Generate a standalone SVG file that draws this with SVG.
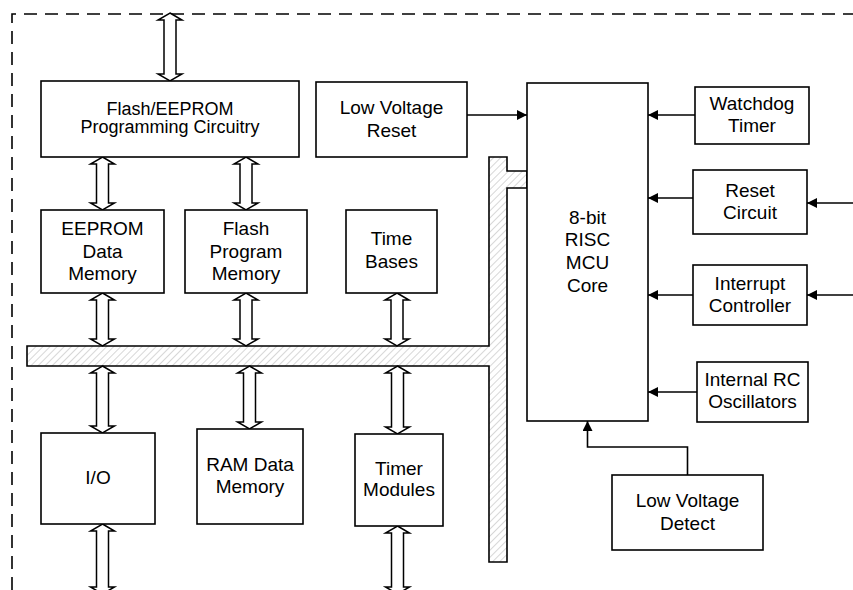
<svg xmlns="http://www.w3.org/2000/svg" width="853" height="590" viewBox="0 0 853 590">
<defs>
<style>
.box{fill:#fff;stroke:#000;stroke-width:1.6}
.t{font-family:"Liberation Sans",Arial,sans-serif;font-size:19px;fill:#000;text-anchor:middle}
.t17{font-size:18px}
.dbl{fill:#fff;stroke:#000;stroke-width:1.5;stroke-linejoin:miter}
.ln{fill:none;stroke:#000;stroke-width:1.6}
.bus{fill:url(#hatch);stroke:#000;stroke-width:1.6}
</style>
<pattern id="hatch" patternUnits="userSpaceOnUse" width="5" height="5" patternTransform="rotate(45)">
<rect width="5" height="5" fill="#fff"/>
<line x1="0" y1="0" x2="0" y2="5" stroke="#bdbdbd" stroke-width="1.2"/>
</pattern>
<marker id="ah" viewBox="0 0 10 10" refX="10" refY="5" markerWidth="11" markerHeight="10" markerUnits="userSpaceOnUse" orient="auto">
<path d="M0,0 L10,5 L0,10 z" fill="#000"/>
</marker>
</defs>

<rect width="853" height="590" fill="#fff"/>
<path d="M12,590 L12,14 L853,14" fill="none" stroke="#000" stroke-width="1.6" stroke-dasharray="13,8"/>

<g id="bus">
<path class="bus" d="M27,346 L489,346 L489,157 L507,157 L507,171 L527,171 L527,188 L507,188 L507,562 L489,562 L489,366 L27,366 Z"/>
</g>

<g id="connectors">
<polygon class="dbl" points="170,13 182,20 176,20 176,74 182,74 170,81 158,74 164,74 164,20 158,20"/>
<polygon class="dbl" points="102.5,157 114.5,164 108.5,164 108.5,203 114.5,203 102.5,210 90.5,203 96.5,203 96.5,164 90.5,164"/>
<polygon class="dbl" points="246,157 258,164 252,164 252,203 258,203 246,210 234,203 240,203 240,164 234,164"/>
<polygon class="dbl" points="102.5,293 114.5,300 108.5,300 108.5,339 114.5,339 102.5,346 90.5,339 96.5,339 96.5,300 90.5,300"/>
<polygon class="dbl" points="246,293 258,300 252,300 252,339 258,339 246,346 234,339 240,339 240,300 234,300"/>
<polygon class="dbl" points="397,293 409,300 403,300 403,339 409,339 397,346 385,339 391,339 391,300 385,300"/>
<polygon class="dbl" points="102.5,366 114.5,373 108.5,373 108.5,426 114.5,426 102.5,433 90.5,426 96.5,426 96.5,373 90.5,373"/>
<polygon class="dbl" points="249.5,366 261.5,373 255.5,373 255.5,422 261.5,422 249.5,429 237.5,422 243.5,422 243.5,373 237.5,373"/>
<polygon class="dbl" points="397.5,366 409.5,373 403.5,373 403.5,427 409.5,427 397.5,434 385.5,427 391.5,427 391.5,373 385.5,373"/>
<polygon class="dbl" points="102.5,524 114.5,531 108.5,531 108.5,587 114.5,587 102.5,594 90.5,587 96.5,587 96.5,531 90.5,531"/>
<polygon class="dbl" points="397.5,526 409.5,533 403.5,533 403.5,587 409.5,587 397.5,594 385.5,587 391.5,587 391.5,533 385.5,533"/>
<line class="ln" x1="467" y1="115" x2="527" y2="115" marker-end="url(#ah)"/>
<line class="ln" x1="695" y1="115" x2="648" y2="115" marker-end="url(#ah)"/>
<line class="ln" x1="693" y1="198" x2="648" y2="198" marker-end="url(#ah)"/>
<line class="ln" x1="853" y1="203" x2="807" y2="203" marker-end="url(#ah)"/>
<line class="ln" x1="693" y1="295" x2="648" y2="295" marker-end="url(#ah)"/>
<line class="ln" x1="853" y1="295" x2="807" y2="295" marker-end="url(#ah)"/>
<line class="ln" x1="697" y1="392" x2="648" y2="392" marker-end="url(#ah)"/>
<polyline class="ln" points="687.5,475 687.5,447 587.5,447 587.5,421" marker-end="url(#ah)"/>
</g>

<g id="flash-eeprom-prog">
<rect class="box" x="41" y="81" width="258" height="76"/>
<text class="t t17" x="170" y="114.5">Flash/EEPROM</text>
<text class="t t17" x="170" y="133">Programming Circuitry</text>
</g>
<g id="low-voltage-reset">
<rect class="box" x="316" y="82" width="151" height="75"/>
<text class="t" x="391.5" y="114">Low Voltage</text>
<text class="t" x="391.5" y="137">Reset</text>
</g>
<g id="core">
<rect class="box" x="527" y="83" width="121" height="338"/>
<text class="t" x="587.5" y="223.5">8-bit</text>
<text class="t" x="587.5" y="246">RISC</text>
<text class="t" x="587.5" y="269">MCU</text>
<text class="t" x="587.5" y="291.5">Core</text>
</g>
<g id="watchdog">
<rect class="box" x="695" y="87" width="114" height="57"/>
<text class="t" x="752" y="110">Watchdog</text>
<text class="t" x="752" y="132">Timer</text>
</g>
<g id="reset-circuit">
<rect class="box" x="693" y="170" width="114" height="64"/>
<text class="t" x="750" y="197">Reset</text>
<text class="t" x="750" y="219">Circuit</text>
</g>
<g id="interrupt-controller">
<rect class="box" x="693" y="265" width="114" height="60"/>
<text class="t" x="750" y="290">Interrupt</text>
<text class="t" x="750" y="312">Controller</text>
</g>
<g id="internal-rc">
<rect class="box" x="697" y="362" width="111" height="60"/>
<text class="t" x="752.5" y="386">Internal RC</text>
<text class="t" x="752.5" y="407.5">Oscillators</text>
</g>
<g id="low-voltage-detect">
<rect class="box" x="612" y="475" width="151" height="75"/>
<text class="t" x="687.5" y="507">Low Voltage</text>
<text class="t" x="687.5" y="529.5">Detect</text>
</g>
<g id="eeprom-data">
<rect class="box" x="41" y="210" width="123" height="83"/>
<text class="t" x="102.5" y="235">EEPROM</text>
<text class="t" x="102.5" y="257.5">Data</text>
<text class="t" x="102.5" y="280">Memory</text>
</g>
<g id="flash-program">
<rect class="box" x="185" y="210" width="122" height="83"/>
<text class="t" x="246" y="235">Flash</text>
<text class="t" x="246" y="257.5">Program</text>
<text class="t" x="246" y="280">Memory</text>
</g>
<g id="time-bases">
<rect class="box" x="346" y="210" width="91" height="83"/>
<text class="t" x="391.5" y="245">Time</text>
<text class="t" x="391.5" y="268">Bases</text>
</g>
<g id="io">
<rect class="box" x="41" y="433" width="114" height="91"/>
<text class="t" x="98" y="483.5">I/O</text>
</g>
<g id="ram-data">
<rect class="box" x="197" y="429" width="106" height="95"/>
<text class="t" x="250" y="471">RAM Data</text>
<text class="t" x="250" y="492.5">Memory</text>
</g>
<g id="timer-modules">
<rect class="box" x="355" y="434" width="88" height="92"/>
<text class="t" x="399" y="475">Timer</text>
<text class="t" x="399" y="496">Modules</text>
</g>
</svg>
